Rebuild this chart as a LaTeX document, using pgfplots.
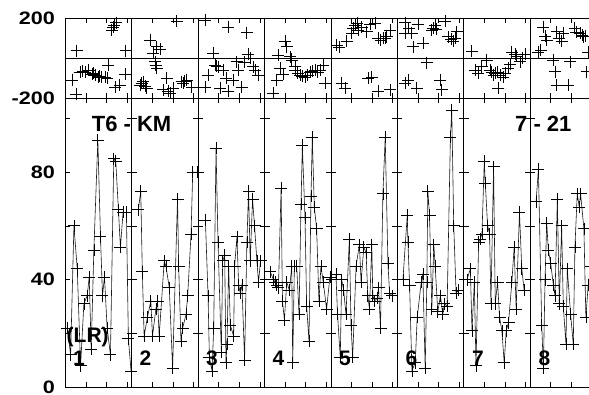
\documentclass[border=0pt]{standalone}
\usepackage{fontspec}
\setmainfont{Liberation Sans}
\usepackage{pgfplots}
\pgfplotsset{compat=1.18}
\pgfplotsset{
 panel/.style={scale only axis, width=66.4pt, anchor=south west, xmin=0, xmax=10,
   xtick={3.1,6.2,9.3}, xticklabels={}, yticklabels={}, tick align=inside,
   major tick length=5pt, axis line style={line width=0.8pt, black},
   tick style={line width=0.6pt, black}, clip=false,
   yticklabel style={font=\bfseries\fontsize{18}{18}\selectfont, xscale=1.2, inner sep=0pt, xshift=-8.5pt}},
 low/.style={panel, height=289pt, ymin=0, ymax=107.6, ytick={0,20,...,100}},
 up/.style={panel, height=80pt, ymin=-200, ymax=200, ytick={-200,200},
   extra y ticks={0}, extra y tick labels={}, extra y tick style={grid=major, major grid style={black, line width=0.6pt}, major tick length=0pt}},
 ser/.style={black!90, line width=0.6pt, mark=+, mark size=6pt, mark options={black, line width=0.7pt}},
 pts/.style={only marks, mark=+, mark size=6pt, mark options={black, line width=0.7pt}},
}
\begin{document}
\begin{tikzpicture}
\useasboundingbox (0,0) rectangle (589pt,394pt);
\clip (0,0) rectangle (589pt,394pt);
% ---------- lower panels ----------
\begin{axis}[low, at={(65.3pt,7pt)}, yticklabels={0,,40,,80,}]
\addplot[ser] coordinates {(0.3,22) (0.8,12) (1.3,60) (1.8,44) (2.3,8) (2.8,31) (3.3,34) (3.6,41) (3.9,14) (4.3,51) (4.9,92) (5.3,56) (5.6,34) (5.9,41) (6.3,22) (6.8,12) (7.3,85) (7.6,84) (8.0,66) (8.3,52) (8.7,65) (9.2,65) (9.5,18) (9.9,6)};
\end{axis}
\begin{axis}[low, at={(131.7pt,7pt)}]
\addplot[ser] coordinates {(1.0,66) (1.36,73) (1.6,43) (1.87,19) (2.37,26) (2.88,32) (3.13,19) (3.64,29) (3.89,32) (4.14,19) (4.9,47) (5.15,45) (5.66,37) (6.16,7) (6.9,70) (7.07,45) (7.42,17) (7.68,22) (8.18,27) (8.43,34) (8.94,57) (9.19,80) (9.95,80)};
\end{axis}
\begin{axis}[low, at={(198.1pt,7pt)}]
\addplot[ser] coordinates {(1.1,62) (1.5,34) (1.7,11) (2.1,6) (2.35,22) (2.7,89) (3.0,54) (3.5,13) (3.7,47) (4.0,49) (4.2,9) (4.35,16) (4.6,45) (4.85,23) (5.35,19) (5.5,45) (5.85,56) (6.1,38) (6.35,35) (6.6,38) (7.0,10) (7.35,54) (7.6,73) (7.85,47) (8.2,70) (8.5,60) (8.85,47) (9.1,39) (9.4,47)};
\end{axis}
\begin{axis}[low, at={(264.5pt,7pt)}]
\addplot[ser] coordinates {(0.85,43) (1.35,40) (1.6,39) (1.85,38) (2.1,37) (2.5,74) (2.7,32) (3.0,25) (3.35,39) (3.75,36) (4.1,45) (4.25,9) (4.5,45) (4.85,45) (5.2,27) (5.5,68) (5.7,90) (6.1,63) (6.35,30) (6.7,17) (7.0,71) (7.2,93) (7.5,67) (7.85,59) (8.2,32) (8.5,45) (8.85,39) (9.35,29) (9.85,41)};
\end{axis}
\begin{axis}[low, at={(330.9pt,7pt)}]
\addplot[ser] coordinates {(0.76,42) (1.0,27) (1.41,11) (1.62,40) (1.92,36) (2.27,27) (2.78,55) (3.03,23) (3.28,11) (3.79,45) (4.29,53) (4.55,39) (4.95,52) (5.3,50) (5.56,34) (5.81,29) (6.16,53) (6.31,34) (6.57,32) (6.97,33) (7.17,37) (7.47,22) (7.83,72) (8.18,93) (8.59,46) (8.84,35) (9.19,34)};
\end{axis}
\begin{axis}[low, at={(397.3pt,7pt)}]
\addplot[ser] coordinates {(0.85,40) (1.5,64) (1.6,54) (1.85,38) (2.2,6) (2.7,9) (3.0,26) (3.6,39) (3.85,42) (4.2,7) (4.45,39) (4.6,73) (4.85,64) (5.2,29) (5.5,53) (5.7,45) (6.1,28) (6.5,34) (6.85,27) (7.1,31) (7.5,30) (8.0,93) (8.2,103) (8.5,60) (8.85,35) (9.2,36)};
\end{axis}
\begin{axis}[low, at={(463.7pt,7pt)}]
\addplot[ser] coordinates {(0.5,40) (1.0,44) (1.25,21) (1.6,39) (1.85,8) (2.25,54) (2.5,55) (2.75,57) (3.1,84) (3.25,76) (3.6,60) (3.9,57) (4.1,31) (4.5,82) (4.75,31) (5.1,39) (5.4,26) (5.75,21) (6.1,9) (6.4,21) (6.75,24) (7.25,39) (7.6,52) (7.9,29) (8.4,65) (8.75,44) (9.1,36)};
\end{axis}
\begin{axis}[low, at={(530.1pt,7pt)}]
\addplot[ser] coordinates {(0.9,69) (1.25,81) (1.75,23) (2.0,7) (2.25,40) (2.5,61) (2.75,51) (3.1,46) (3.5,38) (3.75,34) (4.1,70) (4.4,31) (4.75,60) (5.0,30) (5.4,16) (5.6,44) (6.1,27) (6.5,16) (6.75,52) (7.1,72) (7.4,67) (7.6,72) (8.1,59) (8.4,26) (8.75,38) (9.2,45) (9.7,30)};
\end{axis}
% ---------- upper panels ----------
\begin{axis}[up, at={(65.3pt,296pt)}, yticklabels={-200,200}]
\addplot[pts] coordinates {(1.7,37) (1.0,-110) (1.6,-180) (2.2,-70) (2.6,-65) (3.0,-70) (3.5,-60) (4.0,-80) (4.2,-75) (4.5,-85) (5.0,-95) (5.2,-90) (5.5,-97) (6.0,-97) (6.3,-100) (6.5,-35) (7.0,140) (7.2,155) (7.4,165) (7.7,177) (7.5,-147) (8.2,-135) (9.0,-80) (9.1,37)};
\end{axis}
\begin{axis}[up, at={(131.7pt,296pt)}]
\addplot[pts] coordinates {(2.76,90) (3.26,23) (3.76,57) (4.26,43) (3.5,-18) (3.6,-35) (3.76,-52) (1.75,-118) (1.5,-125) (1.25,-135) (2.0,-140) (2.26,-150) (4.76,-158) (5.5,-165) (5.77,-175) (5.27,-102) (6.27,-150) (7.53,-118) (7.8,-125) (8.0,-115) (8.28,-110) (9.04,-147) (6.78,183)};
\end{axis}
\begin{axis}[up, at={(198.1pt,296pt)}]
\addplot[pts] coordinates {(1.04,190) (4.55,155) (7.3,127) (2.3,23) (2.55,-35) (2.8,-40) (3.05,-43) (1.55,-85) (1.04,-147) (3.3,-150) (3.8,-60) (4.2,-100) (4.55,-165) (5.3,-110) (5.8,-18) (6.05,-60) (6.57,-147) (6.9,-20) (7.56,20) (7.8,0) (8.3,-43) (8.6,-60) (9.07,-85)};
\end{axis}
\begin{axis}[up, at={(264.5pt,296pt)}]
\addplot[pts] coordinates {(1.33,-175) (2.08,15) (3.09,83) (3.34,57) (3.84,7) (4.1,-3) (4.6,-43) (2.33,-52) (1.84,-110) (2.8,-80) (4.1,-10) (4.6,-60) (5.0,-75) (5.35,-85) (5.7,-90) (6.1,-95) (6.5,-85) (6.85,-70) (7.2,-65) (7.6,-60) (8.0,-70) (8.36,-60) (8.86,-35) (9.1,-127)};
\end{axis}
\begin{axis}[up, at={(330.9pt,296pt)}]
\addplot[pts] coordinates {(0.87,65) (1.2,55) (1.63,-127) (2.12,-150) (2.38,83) (3.13,123) (3.4,150) (3.63,165) (4.0,175) (4.13,140) (4.64,155) (5.39,132) (6.14,-95) (5.89,170) (6.64,173) (7.14,98) (7.5,90) (7.89,98) (8.2,100) (8.4,107) (8.9,140) (7.14,-165) (8.9,-158) (5.64,-102)};
\end{axis}
\begin{axis}[up, at={(397.3pt,296pt)}]
\addplot[pts] coordinates {(1.16,177) (1.16,123) (1.7,150) (2.17,123) (2.41,57) (3.16,170) (3.92,73) (4.43,-23) (5.18,140) (5.4,150) (5.68,165) (5.9,145) (7.18,183) (7.68,107) (8.1,95) (8.43,83) (8.7,100) (8.95,132) (1.66,-110) (2.92,-150) (6.43,-110) (6.69,-158) (1.16,-127)};
\end{axis}
\begin{axis}[up, at={(463.7pt,296pt)}]
\addplot[pts] coordinates {(1.2,33) (1.7,-60) (2.2,-77) (2.7,-43) (3.46,-10) (3.96,-60) (4.2,-70) (4.5,-85) (4.71,-77) (5.0,-70) (5.47,-85) (5.21,-150) (5.96,-95) (6.2,-75) (6.72,-52) (7.0,-30) (7.23,28) (7.73,20) (8.0,10) (8.48,-18) (8.8,0) (9.23,20)};
\end{axis}
\begin{axis}[up, at={(530.1pt,296pt)}]
\addplot[pts] coordinates {(1.24,28) (1.6,40) (1.99,155) (2.3,110) (2.5,90) (3.5,-10) (4.0,132) (4.4,100) (4.76,83) (5.0,123) (6.0,-18) (6.73,148) (6.9,130) (7.5,123) (7.8,115) (8.0,107) (8.3,110) (3.75,-68) (4.0,-135) (5.75,-135) (8.77,28) (8.52,-68)};
\end{axis}
% ---------- annotations ----------
\begin{scope}[every node/.style={anchor=base west, inner sep=0pt, font=\bfseries\fontsize{21}{21}\selectfont}]
\node[font=\bfseries\fontsize{22}{22}\selectfont] at (91.7pt,262.3pt) {T6 - KM};
\node[font=\bfseries\fontsize{22}{22}\selectfont] at (515pt,262.3pt) {7 - 21};
\node at (66.5pt,52pt) {(LR)};
\node at (73pt,29pt) {1};
\node at (139.5pt,29pt) {2};
\node at (206pt,29pt) {3};
\node at (272.5pt,29pt) {4};
\node at (339pt,29pt) {5};
\node at (405.5pt,29pt) {6};
\node at (472pt,29pt) {7};
\node at (538.5pt,29pt) {8};
\end{scope}
\end{tikzpicture}
\end{document}
